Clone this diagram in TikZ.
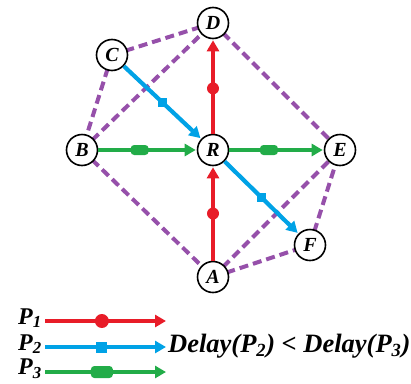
\documentclass[tikz,border=0pt]{standalone}
\usepackage{fontspec}
\setmainfont{Liberation Serif}
\usetikzlibrary{arrows.meta}
\definecolor{pred}{RGB}{232,28,40}
\definecolor{pblue}{RGB}{0,162,230}
\definecolor{pgreen}{RGB}{34,172,72}
\definecolor{ppurp}{RGB}{150,80,170}
\tikzset{
  vtx/.style={circle,draw=black,line width=1.6pt,fill=white,minimum size=31pt,inner sep=0pt,font=\fontsize{20}{20}\selectfont\bfseries\itshape},
  link/.style={ppurp,line width=4pt,dash pattern=on 9pt off 5pt},
  flow/.style={line width=4.2pt,-{Triangle[length=11pt,width=12pt]},shorten >=1pt},
  rdot/.style={circle,fill=pred,minimum size=12pt,inner sep=0pt},
  bsq/.style={rectangle,fill=pblue,minimum size=9pt,inner sep=0pt},
  gbar/.style={rectangle,rounded corners=3.5pt,fill=pgreen,minimum width=18pt,minimum height=10pt,inner sep=0pt},
  lbl/.style={font=\fontsize{24}{24}\selectfont\bfseries\itshape,inner sep=0pt},
}
\begin{document}
\begin{tikzpicture}[x=1pt,y=-1pt]
\useasboundingbox (0,0) rectangle (411,383);
\coordinate (Dp) at (213,23);
\coordinate (Cp) at (112,55);
\coordinate (Bp) at (82,150);
\coordinate (Rp) at (213,150);
\coordinate (Ep) at (340,150);
\coordinate (Fp) at (310,245);
\coordinate (Ap) at (213,277);
% dashed links
\draw[link] (Cp) -- (Dp);
\draw[link] (Cp) -- (Bp);
\draw[link] (Bp) -- (Dp);
\draw[link] (Dp) -- (Ep);
\draw[link] (Bp) -- (Ap);
\draw[link] (Ap) -- (Ep);
\draw[link] (Ap) -- (Fp);
\draw[link] (Fp) -- (Ep);
% nodes
\node[vtx] (D) at (Dp) {D};
\node[vtx] (C) at (Cp) {C};
\node[vtx] (B) at (Bp) {B};
\node[vtx] (R) at (Rp) {R};
\node[vtx] (E) at (Ep) {E};
\node[vtx] (F) at (Fp) {F};
\node[vtx] (A) at (Ap) {A};
% flows
\draw[flow,pred] (A) -- (R) node[pos=0.5,rdot] (m1) {};
\draw[flow,pred] (R) -- (D) node[pos=0.48,rdot] (m2) {};
\draw[flow,pblue] (C) -- (R) node[pos=0.5,bsq] (m3) {};
\draw[flow,pblue] (R) -- (F) node[pos=0.5,bsq] (m4) {};
\draw[flow,pgreen] (B) -- (R) node[pos=0.42,gbar] (m5) {};
\draw[flow,pgreen] (R) -- (E) node[pos=0.42,gbar] (m6) {};
% legend
\node[lbl,anchor=east] (P1) at (42,318) {P\textsubscript{1}};
\node[lbl,anchor=east] (P2) at (42,344) {P\textsubscript{2}};
\node[lbl,anchor=east] (P3) at (42,369) {P\textsubscript{3}};
\coordinate (L1e) at (166,321);
\coordinate (L2e) at (166,347);
\coordinate (L3e) at (166,372);
\draw[flow,pred,shorten >=0pt] (P1.east|-L1e) ++(3,0) coordinate (L1s) -- (L1e) node[pos=0.47,rdot,minimum size=14pt] {};
\draw[flow,pblue,shorten >=0pt] (P2.east|-L2e) ++(3,0) coordinate (L2s) -- (L2e) node[pos=0.47,bsq,minimum size=11pt] {};
\draw[flow,pgreen,shorten >=0pt] (P3.east|-L3e) ++(3,0) coordinate (L3s) -- (L3e) node[pos=0.47,gbar,minimum width=22pt,minimum height=12pt] {};
\node[lbl,anchor=west,font=\fontsize{26.5}{26.5}\selectfont\bfseries\itshape] (delay) at (168,346) {Delay(P\textsubscript{2}) < Delay(P\textsubscript{3})};
\end{tikzpicture}
\end{document}
